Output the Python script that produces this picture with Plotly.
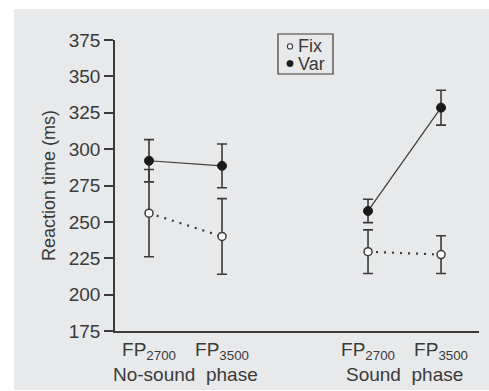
import plotly.graph_objects as go

# Data
x_pos = [1, 2, 4, 5]
tick_labels = ["FP<sub>2700</sub>", "FP<sub>3500</sub>", "FP<sub>2700</sub>", "FP<sub>3500</sub>"]
group_labels = ["No-sound  phase", "Sound  phase"]
group_pos = [1.5, 4.5]
series_names = ["Fix", "Var"]

fix_mean = [256, 240, 229.5, 227.5]
fix_err = [30, 26, 15, 13]
var_mean = [292, 288.5, 257.5, 328.5]
var_err = [14.5, 15, 8, 12]

INK = "#3a3a3a"
BG = "#e8e9eb"
FONT = "Liberation Sans, Arial, sans-serif"

fig = go.Figure()

for a, b in [(0, 2), (2, 4)]:
    fig.add_trace(go.Scatter(
        x=x_pos[a:b], y=fix_mean[a:b], mode="lines",
        line=dict(color=INK, width=2.2, dash="2px,6px"), showlegend=False, hoverinfo="skip"))
    fig.add_trace(go.Scatter(
        x=x_pos[a:b], y=var_mean[a:b], mode="lines",
        line=dict(color=INK, width=1.2), showlegend=False, hoverinfo="skip"))

fig.add_trace(go.Scatter(
    x=x_pos, y=fix_mean, mode="markers", name=series_names[0],
    error_y=dict(type="data", array=fix_err, color=INK, thickness=1.6, width=5),
    marker=dict(symbol="circle", size=8, color="white", line=dict(color=INK, width=1.5)),
    showlegend=False))
fig.add_trace(go.Scatter(
    x=x_pos, y=var_mean, mode="markers", name=series_names[1],
    error_y=dict(type="data", array=var_err, color=INK, thickness=1.6, width=5),
    marker=dict(symbol="circle", size=9, color="#1a1a1a", line=dict(color="#1a1a1a", width=1)),
    showlegend=False))

annotations = []
for gl, gp in zip(group_labels, group_pos):
    annotations.append(dict(x=gp, y=-0.151, xref="x", yref="paper", text=gl,
                            showarrow=False, font=dict(family=FONT, size=19, color=INK),
                            xanchor="center", yanchor="middle"))

# legend (box + symbols + text)
leg_y = [0.978, 0.919]
for name, ly in zip(series_names, leg_y):
    annotations.append(dict(x=0.4973, y=ly, xref="paper", yref="paper", text=name,
                            xanchor="left", yanchor="middle", showarrow=False,
                            font=dict(family=FONT, size=18, color=INK)))

shapes = [
    dict(type="rect", xref="paper", yref="paper",
         x0=-0.2775, x1=1.03, y0=-0.2027, y1=1.1065,
         fillcolor=BG, line=dict(width=0), layer="below"),
    dict(type="rect", xref="paper", yref="paper",
         x0=0.4478, x1=0.5989, y0=0.8832, y1=1.0206,
         fillcolor="rgba(0,0,0,0)", line=dict(color=INK, width=1.2)),
    dict(type="circle", xref="paper", yref="paper", xsizemode="pixel", ysizemode="pixel",
         xanchor=0.4808, yanchor=leg_y[0], x0=-2.6, x1=2.6, y0=-2.6, y1=2.6,
         fillcolor="white", line=dict(color=INK, width=1.1)),
    dict(type="circle", xref="paper", yref="paper", xsizemode="pixel", ysizemode="pixel",
         xanchor=0.4808, yanchor=leg_y[1], x0=-3.2, x1=3.2, y0=-3.2, y1=3.2,
         fillcolor="#1a1a1a", line=dict(color="#1a1a1a", width=0.5)),
]

fig.update_layout(
    width=489, height=391,
    margin=dict(l=115, r=10, t=40, b=60),
    paper_bgcolor="white",
    plot_bgcolor="rgba(0,0,0,0)",
    font=dict(family=FONT, size=18, color=INK),
    showlegend=False,
    annotations=annotations,
    shapes=shapes,
    xaxis=dict(range=[0.534, 5.52], tickvals=x_pos, ticktext=tick_labels,
               showgrid=False, zeroline=False, showline=True, linecolor=INK, linewidth=1.6,
               ticks="", tickfont=dict(family=FONT, size=19, color=INK)),
    yaxis=dict(range=[175, 375], tickvals=[175, 200, 225, 250, 275, 300, 325, 350, 375],
               showgrid=False, zeroline=False, showline=True, linecolor=INK, linewidth=1.6,
               ticks="outside", ticklen=9, tickwidth=1.6, tickcolor=INK,
               tickfont=dict(family=FONT, size=19, color=INK),
               title=dict(text="Reaction time (ms)", font=dict(family=FONT, size=18, color=INK),
                          standoff=8)),
)

fig.write_html("out.html")
